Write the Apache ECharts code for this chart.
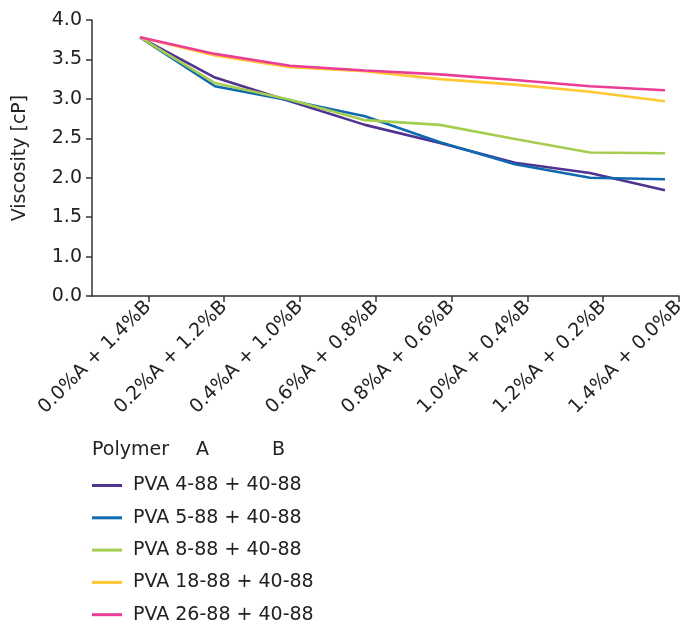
<!DOCTYPE html>
<html>
<head>
<meta charset="utf-8">
<script src="https://cdn.jsdelivr.net/npm/echarts@6/dist/echarts.min.js"></script>
<style>
html,body{margin:0;padding:0;background:#fff;}
#chart{width:685px;height:621px;}
</style>
</head>
<body>
<div id="chart"></div>
<script>
var categories = ['0.0%A + 1.4%B','0.2%A + 1.2%B','0.4%A + 1.0%B','0.6%A + 0.8%B','0.8%A + 0.6%B','1.0%A + 0.4%B','1.2%A + 0.2%B','1.4%A + 0.0%B'];
var seriesNames = ['PVA 4-88 + 40-88','PVA 5-88 + 40-88','PVA 8-88 + 40-88','PVA 18-88 + 40-88','PVA 26-88 + 40-88'];
var pva4 = [3.78, 3.27, 2.97, 2.67, 2.44, 2.19, 2.06, 1.84];
var pva5 = [3.78, 3.16, 2.98, 2.78, 2.45, 2.17, 2.00, 1.98];
var pva8 = [3.78, 3.20, 2.99, 2.73, 2.67, 2.49, 2.32, 2.31];
var pva18 = [3.78, 3.55, 3.40, 3.35, 3.25, 3.18, 3.09, 2.97];
var pva26 = [3.78, 3.57, 3.42, 3.36, 3.31, 3.24, 3.16, 3.11];
var yTickValues = [0.5, 1.0, 1.5, 2.0, 2.5, 3.0, 3.5, 4.0];
var yTickLabels = ['0.0', '1.0', '1.5', '2.0', '2.5', '3.0', '3.5', '4.0'];
var legendHeader = ['Polymer', 'A', 'B'];
var colors = ['#503291', '#0f69af', '#a5cd50', '#ffc832', '#eb3c96'];
var allValues = [pva4, pva5, pva8, pva18, pva26];

var FONT = 'DejaVu Sans';
var FS = 19;
var axisColor = '#333333';
var textColor = '#222222';
var catIdx = categories.map(function(c, i){ return i; });

var chart = echarts.init(document.getElementById('chart'), null, {renderer: 'canvas'});
var option = {
  animation: false,
  backgroundColor: '#ffffff',
  textStyle: {fontFamily: FONT},
  grid: {left: 92, right: 6, top: 20, bottom: 325, containLabel: false, outerBoundsMode: 'none'},
  xAxis: [
    {
      type: 'value', show: false, min: -0.64, max: 7.187, position: 'bottom',
      splitLine: {show: false}
    },
    {
      type: 'value', min: -0.743, max: 7, position: 'bottom',
      axisLine: {show: true, onZero: false, lineStyle: {color: axisColor, width: 1.5}},
      splitLine: {show: false},
      axisTick: {show: true, length: 6, customValues: catIdx, lineStyle: {color: axisColor, width: 1.5}},
      axisLabel: {
        customValues: catIdx, rotate: 45, margin: 8,
        fontFamily: FONT, fontSize: FS, color: textColor,
        formatter: function(v){ return categories[Math.round(v)]; }
      }
    }
  ],
  yAxis: {
    type: 'value', min: 0.5, max: 4.0, interval: 0.5,
    name: 'Viscosity [cP]', nameLocation: 'middle', nameGap: 62, nameRotate: 90,
    nameTextStyle: {fontFamily: FONT, fontSize: FS, color: textColor},
    axisLine: {show: true, onZero: false, lineStyle: {color: axisColor, width: 1.5}},
    axisTick: {show: true, length: 6, lineStyle: {color: axisColor, width: 1.5}},
    splitLine: {show: false},
    axisLabel: {
      margin: 10, fontFamily: FONT, fontSize: FS, color: textColor,
      formatter: function(v){
        var k = yTickValues.indexOf(Math.round(v * 10) / 10);
        return k >= 0 ? yTickLabels[k] : '';
      }
    }
  },
  legend: {
    orient: 'vertical', left: 92, top: 476, height: 200, padding: 0,
    icon: 'rect', itemWidth: 30, itemHeight: 3, itemGap: 13.3,
    textStyle: {fontFamily: FONT, fontSize: FS, color: textColor, padding: [0, 0, 0, 6]},
    data: seriesNames
  },
  graphic: [
    {type: 'text', left: 92, top: 441, style: {text: legendHeader[0], font: FS + 'px "DejaVu Sans"', fill: textColor}},
    {type: 'text', left: 196, top: 441, style: {text: legendHeader[1], font: FS + 'px "DejaVu Sans"', fill: textColor}},
    {type: 'text', left: 272, top: 441, style: {text: legendHeader[2], font: FS + 'px "DejaVu Sans"', fill: textColor}}
  ],
  series: seriesNames.map(function(name, s){
    return {
      name: name, type: 'line', xAxisIndex: 0,
      symbol: 'none', showSymbol: false,
      lineStyle: {color: colors[s], width: 2.6},
      itemStyle: {color: colors[s]},
      data: allValues[s].map(function(v, i){ return [i, v]; })
    };
  })
};
chart.setOption(option);
</script>
</body>
</html>
